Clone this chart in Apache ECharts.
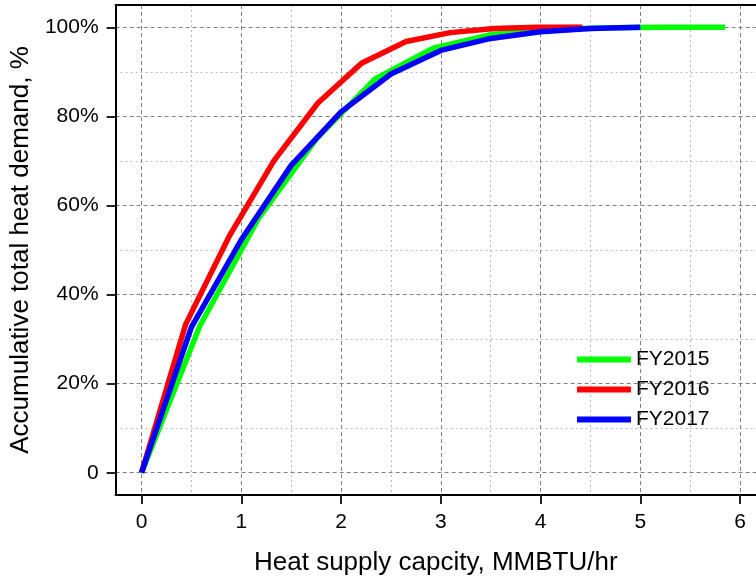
<!DOCTYPE html>
<html>
<head>
<meta charset="utf-8">
<script src="https://cdn.jsdelivr.net/npm/echarts@6/dist/echarts.min.js"></script>
<style>
  html, body { margin: 0; padding: 0; background: #ffffff; }
  #chart { width: 756px; height: 581px; }
</style>
</head>
<body>
<div id="chart"></div>
<script>
// heat supply capacity (MMBTU/hr) and cumulative share of heat demand (%)
const fy2015Cap = [0, 0.585, 1.17, 1.755, 2.34, 2.925, 3.51, 4.095, 4.68, 5.265, 5.85];
const fy2015Pct = [0, 33, 57, 75, 88.4, 95.3, 98.4, 99.5, 99.9, 100, 100];
const fy2016Cap = [0, 0.442, 0.884, 1.326, 1.768, 2.21, 2.652, 3.094, 3.536, 3.978, 4.42];
const fy2016Pct = [0, 33.3, 53.3, 70, 83, 92, 96.8, 98.8, 99.7, 100, 100];
const fy2017Cap = [0, 0.5, 1, 1.5, 2, 2.5, 3, 3.5, 4, 4.5, 5];
const fy2017Pct = [0, 32.7, 52.3, 69, 81, 89.5, 94.8, 97.5, 99, 99.7, 100];

const xTicks = [0, 1, 2, 3, 4, 5, 6];
const xMinor = [0.5, 1.5, 2.5, 3.5, 4.5, 5.5];
const yTicks = [0, 20, 40, 60, 80, 100];
const yMinor = [10, 30, 50, 70, 90];

const font = "Liberation Sans";

function pairs(xs, ys) {
  return xs.map(function (x, i) { return [x, ys[i]]; });
}

const majorGrid = { show: true, lineStyle: { color: "#808080", width: 1, type: [4, 3] } };
const minorGrid = { show: true, lineStyle: { color: "#b8b8b8", width: 1, type: [2, 3] } };

const option = {
  animation: false,
  backgroundColor: "#ffffff",
  grid: { left: 113, right: 0, top: 5, bottom: 81, containLabel: false },
  legend: {
    orient: "vertical",
    left: 577,
    top: 349,
    padding: 0,
    itemGap: 9,
    itemWidth: 54,
    itemHeight: 6,
    icon: "rect",
    textStyle: { fontFamily: font, fontSize: 21, color: "#000" },
    data: ["FY2015", "FY2016", "FY2017"]
  },
  xAxis: [
    {
      type: "value",
      position: "bottom",
      min: -0.26,
      max: 6.16,
      name: "Heat supply capcity, MMBTU/hr",
      nameLocation: "middle",
      nameGap: 55,
      nameTextStyle: { fontFamily: font, fontSize: 26, color: "#000" },
      axisLine: { onZero: false, lineStyle: { color: "#000", width: 2 } },
      axisTick: { show: true, customValues: xTicks, length: 9, lineStyle: { color: "#222", width: 2 } },
      axisLabel: { customValues: xTicks, margin: 17, fontFamily: font, fontSize: 21, color: "#000" },
      splitLine: majorGrid
    },
    {
      // top frame line + minor vertical grid
      type: "value",
      position: "top",
      min: -0.26,
      max: 6.16,
      axisLine: { show: true, onZero: false, lineStyle: { color: "#000", width: 2 } },
      axisTick: { show: false, customValues: xMinor },
      axisLabel: { show: false, customValues: xMinor },
      splitLine: minorGrid
    }
  ],
  yAxis: [
    {
      type: "value",
      position: "left",
      min: -5,
      max: 105,
      name: "Accumulative total heat demand, %",
      nameLocation: "middle",
      nameGap: 76,
      nameTextStyle: { fontFamily: font, fontSize: 26, color: "#000" },
      axisLine: { show: true, onZero: false, lineStyle: { color: "#000", width: 2 } },
      axisTick: { show: true, customValues: yTicks, length: 9, lineStyle: { color: "#222", width: 2 } },
      axisLabel: {
        customValues: yTicks,
        margin: 17,
        fontFamily: font,
        fontSize: 21,
        color: "#000",
        formatter: function (v) { return v === 0 ? "0" : v + "%"; }
      },
      splitLine: majorGrid
    },
    {
      // minor horizontal grid
      type: "value",
      position: "left",
      min: -5,
      max: 105,
      axisLine: { show: false, onZero: false },
      axisTick: { show: false, customValues: yMinor },
      axisLabel: { show: false, customValues: yMinor },
      splitLine: minorGrid
    }
  ],
  series: [
    {
      name: "FY2015",
      type: "line",
      data: pairs(fy2015Cap, fy2015Pct),
      showSymbol: false,
      itemStyle: { color: "#00ff00" },
      lineStyle: { color: "#00ff00", width: 5.5 },
      z: 3
    },
    {
      name: "FY2016",
      type: "line",
      data: pairs(fy2016Cap, fy2016Pct),
      showSymbol: false,
      itemStyle: { color: "#ff0000" },
      lineStyle: { color: "#ff0000", width: 5.5 },
      z: 4
    },
    {
      name: "FY2017",
      type: "line",
      data: pairs(fy2017Cap, fy2017Pct),
      showSymbol: false,
      itemStyle: { color: "#0000ff" },
      lineStyle: { color: "#0000ff", width: 5.5 },
      z: 5
    }
  ]
};

const chartObj = echarts.init(document.getElementById("chart"), null, { renderer: "canvas" });
chartObj.setOption(option);
window.addEventListener("resize", function () {
  chartObj.resize();
});
</script>
</body>
</html>
